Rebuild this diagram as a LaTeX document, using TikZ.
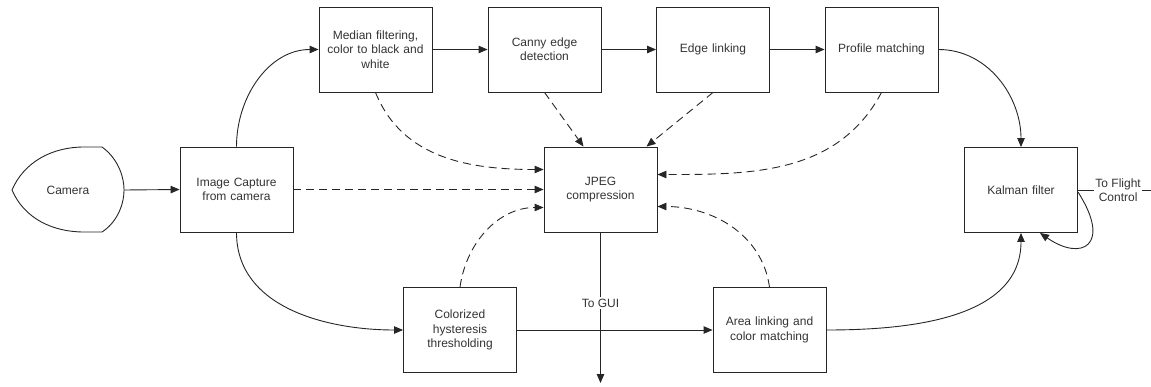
\documentclass[tikz,border=0pt]{standalone}
\usepackage{fontspec}
\setmainfont{Liberation Sans}
\usetikzlibrary{arrows.meta}
\begin{document}
\begin{tikzpicture}[x=1pt,y=-1pt,
  ink/.style={draw=black!85, line width=0.9pt},
  proc/.style={ink, rectangle, minimum width=113pt, minimum height=85pt,
    text width=104pt, align=center, inner sep=0pt,
    font=\fontsize{12}{14.3}\selectfont, text=black!80},
  flow/.style={ink, -{Triangle[length=9pt,width=7.5pt]}},
  feed/.style={flow, dash pattern=on 8pt off 5pt},
  lbl/.style={fill=white, inner sep=1.5pt, align=center,
    font=\fontsize{12}{14.3}\selectfont, text=black!80}]
\useasboundingbox (0,0) rectangle (1151,386);

% source shape
\node[minimum width=112pt, minimum height=85pt, inner sep=0pt,
  font=\fontsize{12}{14.3}\selectfont, text=black!80] (cam) at (68,190) {Camera};
\draw[ink] (12,190) .. controls (24,162) and (52,147) .. (84,147) -- (102,147)
  .. controls (116,157) and (124,174) .. (124,190)
  .. controls (124,206) and (116,223) .. (102,232) -- (84,232)
  .. controls (52,232) and (24,218) .. (12,190) -- cycle;
\coordinate (camR) at (124,190);

% processing stages
\node[proc] (cap) at (236.5,189.5) {Image Capture\\from camera};
\node[proc] (med) at (375.5,49.5) {Median filtering,\\color to black and\\white};
\node[proc] (can) at (544.5,49.5) {Canny edge\\detection};
\node[proc] (edg) at (713,49.5) {Edge linking};
\node[proc] (pro) at (881.5,49.5) {Profile matching};
\node[proc] (kal) at (1021,190) {Kalman filter};
\node[proc] (jpg) at (600.5,189.5) {JPEG\\compression};
\node[proc] (col) at (460,330) {Colorized\\hysteresis\\thresholding};
\node[proc] (are) at (769.5,330) {Area linking and\\color matching};

% main data flow
\draw[flow] (camR) -- (cap.west);
\draw[flow] (cap.north) to[out=90,in=180] (med.west);
\draw[flow] (med.east) -- (can.west);
\draw[flow] (can.east) -- (edg.west);
\draw[flow] (edg.east) -- (pro.west);
\draw[flow] (pro.east) to[out=0,in=90] (kal.north);
\draw[flow] (cap.south) to[out=-90,in=180] (col.west);
\draw[flow] (col.east) -- (are.west);
\draw[flow] (are.east) to[out=0,in=-90] (kal.south);
\draw[flow] ([yshift=-2pt]kal.east) .. controls (1112,245) and (1082,262) .. ([xshift=19pt]kal.south);

% outputs
\coordinate (fc) at (1151,190);
\draw[ink] (kal.east) -- (fc) node[lbl, pos=0.55] {To Flight\\Control};
\coordinate (gui) at (600.5,383);
\draw[flow] (jpg.south) -- (gui) node[lbl, pos=0.47] {To GUI};

% frames sent for compression
\draw[feed] (cap.east) -- (jpg.west);
\draw[feed] (med.south) to[out=-68,in=180] ([yshift=20pt]jpg.west);
\draw[feed] (can.south) -- ([xshift=-17pt]jpg.north);
\draw[feed] (edg.south) -- ([xshift=46pt]jpg.north);
\draw[feed] (pro.south) to[out=-118,in=0] ([yshift=15pt]jpg.east);
\draw[feed] (col.north) to[out=82,in=180] ([yshift=-18pt]jpg.west);
\draw[feed] (are.north) to[out=98,in=0] ([yshift=-17pt]jpg.east);
\end{tikzpicture}
\end{document}
